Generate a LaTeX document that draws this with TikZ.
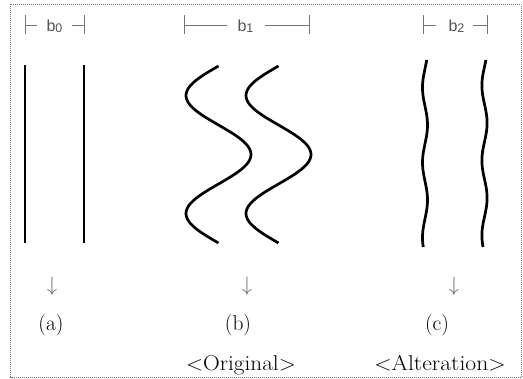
\documentclass[tikz,border=0pt]{standalone}
\usepackage{fontspec}
\usepackage{graphicx}
\newfontfamily\lsans{Liberation Sans}
\newcommand{\bsub}[1]{b\raisebox{-1.3pt}{\fontsize{12.5}{12.5}\selectfont #1}}
\begin{document}
\begin{tikzpicture}[x=1pt,y=-1pt,
  bar/.style={draw=black!55, line width=0.9pt},
  lbl/.style={font=\lsans\fontsize{16}{16}\selectfont, text=black!68, inner sep=0pt, anchor=base},
  strand/.style={line width=2.7pt, black},
  capt/.style={font=\fontsize{21.5}{21.5}\selectfont, inner sep=0pt, anchor=base},
  darr/.style={font=\fontsize{22}{22}\selectfont, text=black!60, inner sep=0pt}
]
\useasboundingbox (0,0) rectangle (523,379);
\draw[black!55, line width=0.8pt, dash pattern=on 0.8pt off 1.2pt] (10.5,4.5) rectangle (521.5,377);

% --- bracket labels
\node[lbl] (b0) at (54.5,31.7) {\bsub{0}};
\node[lbl] (b1) at (245.5,31.7) {\bsub{1}};
\node[lbl] (b2) at (456.5,31.7) {\bsub{2}};

\foreach \xl/\xa/\xb/\xr/\n in {25/37/72/84/a, 184/227/265/309/b, 423/436/473/487/c}{
  \coordinate (\n tl) at (\xl,15.5);
  \coordinate (\n bl) at (\xl,34);
  \coordinate (\n tr) at (\xr,15.5);
  \coordinate (\n br) at (\xr,34);
  \coordinate (\n ml) at (\xl,25);
  \coordinate (\n mr) at (\xr,25);
  \coordinate (\n il) at (\xa,25);
  \coordinate (\n ir) at (\xb,25);
  \draw[bar] (\n tl) -- (\n bl);
  \draw[bar] (\n tr) -- (\n br);
  \draw[bar] (\n ml) -- (\n il);
  \draw[bar] (\n ir) -- (\n mr);
}

% --- (a) straight strands
\draw[strand] (25,65) -- (25,243);
\draw[strand] (84,65) -- (84,243);

% --- (b) original waves
\draw[strand] plot[domain=0:177, samples=100, smooth] ({218.5-32.5*sin(\x*3.0508)}, {66+\x});
\draw[strand] plot[domain=0:177, samples=100, smooth] ({278.5-32.5*sin(\x*3.0508)}, {66+\x});

% --- (c) altered waves
\draw[strand] plot[domain=60:247, samples=100, smooth] ({425+2.5*cos((\x-125)*4.8)}, {\x});
\draw[strand] plot[domain=60:247, samples=100, smooth] ({484.5+2.6*cos((\x-123)*4.8)}, {\x});

% --- arrows and captions
\node[darr] (arra) at (52,286) {$\downarrow$};
\node[darr] (arrb) at (247,286) {$\downarrow$};
\node[darr] (arrc) at (454,286) {$\downarrow$};

\node[capt] (capa) at (51,330.5) {(a)};
\node[capt] (capb) at (238,330.5) {(b)};
\node[capt] (capc) at (437,330.5) {(c)};

\node[capt] (orig) at (241,370.5) {\scalebox{1.08}[1]{$<$Original$>$}};
\node[capt] (alt) at (440,370.5) {\scalebox{1.1}[1]{$<$Alteration$>$}};
\end{tikzpicture}
\end{document}
